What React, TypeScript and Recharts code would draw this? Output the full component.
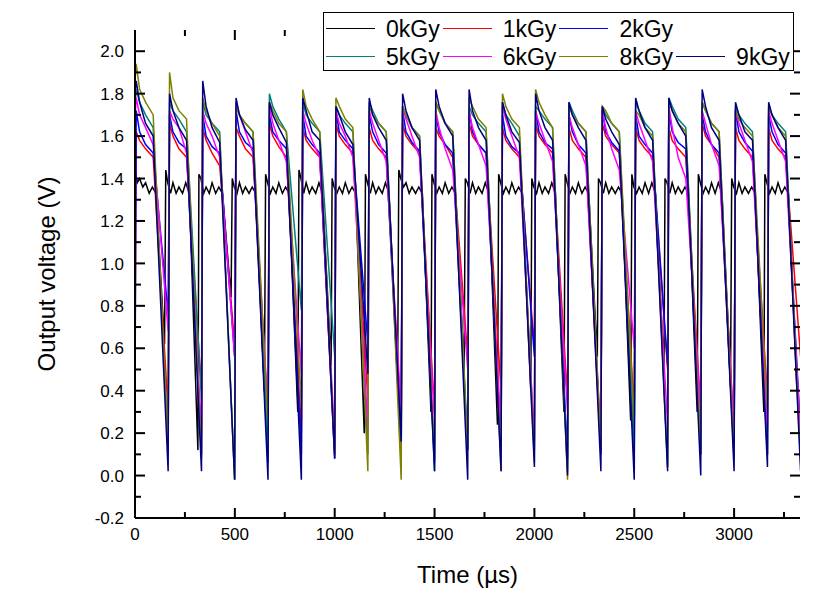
import { LineChart, Line, XAxis, YAxis, Legend } from 'recharts'

// time of each rising edge (µs)
const CYCLE_START = [3, 170, 336, 503, 670, 837, 1003, 1170, 1337, 1503, 1670, 1837, 2003, 2170, 2337, 2504, 2670, 2837, 3004, 3170]
// points inside a cycle: peak, early plateau, mid plateau, end of plateau, bottom of falling edge
const CYCLE_OFFSETS = [3, 20, 50, 88, 163]
// the 0kGy trace switches ~20 µs earlier, holds a noisy plateau longer
const REF_SHIFT = -20
const REF_OFFSETS = [4, 14, 28, 40, 56, 70, 88, 104, 122, 165]

const X_DOMAIN = [0, 3330]
const Y_DOMAIN = [-0.2, 2.1]
const X_MAJOR = [0, 500, 1000, 1500, 2000, 2500, 3000]
const X_MINOR = [250, 750, 1250, 1750, 2250, 2750, 3250]
const Y_MAJOR = [-0.2, 0, 0.2, 0.4, 0.6, 0.8, 1.0, 1.2, 1.4, 1.6, 1.8, 2.0]
const Y_MINOR = [-0.1, 0.1, 0.3, 0.5, 0.7, 0.9, 1.1, 1.3, 1.5, 1.7, 1.9]

// 0kGy: [peak, then plateau noise ..., bottom] per cycle
const V_0KGY = [
  [1.45, 1.42, 1.38, 1.40, 1.36, 1.38, 1.33, 1.36, 1.33, 0.62], [1.44, 1.38, 1.33, 1.38, 1.33, 1.36, 1.33, 1.38, 1.33, 0.12],
  [1.42, 1.40, 1.33, 1.36, 1.33, 1.38, 1.33, 1.36, 1.33, 0.84], [1.40, 1.36, 1.33, 1.38, 1.33, 1.36, 1.33, 1.36, 1.33, 0.40],
  [1.42, 1.38, 1.33, 1.36, 1.33, 1.38, 1.33, 1.36, 1.33, 0.30], [1.44, 1.40, 1.33, 1.38, 1.33, 1.36, 1.33, 1.38, 1.33, 0.52],
  [1.40, 1.36, 1.33, 1.36, 1.33, 1.38, 1.33, 1.36, 1.33, 0.20], [1.42, 1.38, 1.33, 1.38, 1.33, 1.36, 1.33, 1.38, 1.33, 0.44],
  [1.44, 1.40, 1.36, 1.38, 1.33, 1.36, 1.33, 1.36, 1.33, 0.30], [1.42, 1.38, 1.33, 1.36, 1.33, 1.38, 1.33, 1.36, 1.33, 0.50],
  [1.40, 1.38, 1.33, 1.38, 1.33, 1.36, 1.33, 1.38, 1.33, 0.24], [1.42, 1.38, 1.33, 1.36, 1.33, 1.38, 1.33, 1.36, 1.33, 0.40],
  [1.40, 1.36, 1.33, 1.38, 1.33, 1.36, 1.33, 1.38, 1.33, 0.30], [1.42, 1.38, 1.33, 1.36, 1.33, 1.38, 1.33, 1.36, 1.33, 0.56],
  [1.40, 1.38, 1.33, 1.38, 1.33, 1.36, 1.33, 1.36, 1.33, 0.26], [1.42, 1.36, 1.33, 1.36, 1.33, 1.38, 1.33, 1.38, 1.33, 0.50],
  [1.40, 1.38, 1.33, 1.38, 1.33, 1.36, 1.33, 1.36, 1.33, 0.30], [1.42, 1.38, 1.33, 1.36, 1.33, 1.38, 1.33, 1.38, 1.33, 0.42],
  [1.40, 1.36, 1.33, 1.38, 1.33, 1.36, 1.33, 1.36, 1.33, 0.30], [1.42, 1.38, 1.33, 1.36, 1.33, 1.38, 1.33, 1.36, 1.33, 0.40],
]
// the others: [peak, early, mid, end, bottom] per cycle
const V_1KGY = [
  [1.62, 1.58, 1.54, 1.50, 0.30], [1.66, 1.60, 1.54, 1.50, 0.40], [1.64, 1.58, 1.52, 1.46, 0.62], [1.64, 1.60, 1.54, 1.50, 0.28],
  [1.66, 1.60, 1.55, 1.50, 0.20], [1.64, 1.58, 1.54, 1.50, 0.10], [1.66, 1.60, 1.56, 1.52, 0.36], [1.64, 1.58, 1.54, 1.50, 0.24],
  [1.66, 1.60, 1.56, 1.52, 0.30], [1.64, 1.60, 1.56, 1.50, 0.56], [1.66, 1.60, 1.56, 1.52, 0.40], [1.64, 1.58, 1.54, 1.50, 0.60],
  [1.66, 1.60, 1.56, 1.52, 0.36], [1.64, 1.58, 1.54, 1.50, 0.10], [1.66, 1.60, 1.56, 1.52, 0.30], [1.64, 1.58, 1.54, 1.50, 0.50],
  [1.64, 1.58, 1.54, 1.50, 0.30], [1.66, 1.60, 1.56, 1.50, 0.20], [1.64, 1.58, 1.54, 1.50, 0.36], [1.64, 1.58, 1.54, 1.50, 0.56],
]
const V_2KGY = [
  [1.72, 1.62, 1.56, 1.52, 0.76], [1.70, 1.62, 1.57, 1.54, 0.10], [1.70, 1.60, 1.55, 1.52, 0.56], [1.72, 1.62, 1.57, 1.54, 0.06],
  [1.70, 1.62, 1.58, 1.54, 0.10], [1.70, 1.60, 1.56, 1.52, 0.08], [1.72, 1.62, 1.58, 1.54, 0.62], [1.70, 1.62, 1.56, 1.52, 0.10],
  [1.72, 1.62, 1.57, 1.53, 0.06], [1.70, 1.62, 1.56, 1.52, 0.12], [1.72, 1.62, 1.56, 1.52, 0.10], [1.70, 1.60, 1.55, 1.52, 0.56],
  [1.72, 1.62, 1.57, 1.54, 0.08], [1.70, 1.62, 1.56, 1.52, 0.12], [1.72, 1.62, 1.57, 1.53, 0.10], [1.70, 1.60, 1.56, 1.52, 0.52],
  [1.72, 1.62, 1.57, 1.54, 0.10], [1.70, 1.62, 1.56, 1.52, 0.08], [1.72, 1.62, 1.57, 1.53, 0.10], [1.70, 1.62, 1.56, 1.52, 0.20],
]
const V_5KGY = [
  [1.82, 1.76, 1.70, 1.64, 0.12], [1.76, 1.72, 1.68, 1.62, 0.36], [1.76, 1.70, 1.66, 1.62, -0.02], [1.74, 1.70, 1.66, 1.62, 0.10],
  [1.80, 1.74, 1.68, 1.62, 0.78], [1.76, 1.70, 1.66, 1.62, 0.56], [1.74, 1.70, 1.66, 1.62, 0.10], [1.76, 1.72, 1.66, 1.62, 0.10],
  [1.74, 1.70, 1.64, 1.60, 0.02], [1.76, 1.72, 1.66, 1.62, 0.14], [1.74, 1.70, 1.66, 1.62, 0.10], [1.76, 1.70, 1.66, 1.60, 0.12],
  [1.74, 1.72, 1.68, 1.64, 0.02], [1.76, 1.72, 1.66, 1.62, 0.10], [1.74, 1.70, 1.66, 1.62, 0.12], [1.76, 1.72, 1.66, 1.62, 0.04],
  [1.78, 1.74, 1.68, 1.64, 0.10], [1.76, 1.72, 1.66, 1.62, 0.12], [1.74, 1.70, 1.66, 1.62, 0.10], [1.74, 1.70, 1.66, 1.62, 0.10],
]
const V_6KGY = [
  [1.78, 1.70, 1.64, 1.56, 0.68], [1.72, 1.68, 1.64, 1.52, 0.20], [1.72, 1.66, 1.60, 1.50, 0.56], [1.76, 1.70, 1.62, 1.52, 0.30],
  [1.74, 1.66, 1.58, 1.48, 0.48], [1.72, 1.66, 1.58, 1.50, 0.18], [1.72, 1.66, 1.60, 1.50, 0.22], [1.72, 1.66, 1.58, 1.48, 0.30],
  [1.74, 1.68, 1.60, 1.50, 0.26], [1.72, 1.64, 1.54, 1.44, 0.50], [1.72, 1.64, 1.56, 1.46, 0.22], [1.74, 1.68, 1.60, 1.50, 0.16],
  [1.72, 1.66, 1.58, 1.48, 0.30], [1.70, 1.64, 1.56, 1.46, 0.18], [1.72, 1.64, 1.54, 1.44, 0.60], [1.72, 1.66, 1.58, 1.48, 0.24],
  [1.74, 1.64, 1.50, 1.40, 0.30], [1.72, 1.66, 1.56, 1.46, 0.20], [1.72, 1.66, 1.58, 1.48, 0.22], [1.72, 1.66, 1.58, 1.48, 0.18],
]
const V_8KGY = [
  [1.94, 1.82, 1.76, 1.70, 0.12], [1.90, 1.78, 1.72, 1.68, 0.08], [1.78, 1.72, 1.66, 1.60, -0.02], [1.74, 1.70, 1.66, 1.62, 0.24],
  [1.76, 1.72, 1.66, 1.62, 0.32], [1.82, 1.74, 1.68, 1.62, 0.10], [1.78, 1.74, 1.68, 1.64, 0.02], [1.74, 1.70, 1.66, 1.62, -0.02],
  [1.74, 1.70, 1.64, 1.60, 0.08], [1.76, 1.72, 1.66, 1.62, 0.12], [1.78, 1.74, 1.68, 1.64, 0.02], [1.80, 1.74, 1.68, 1.64, 0.06],
  [1.82, 1.76, 1.70, 1.64, -0.02], [1.74, 1.70, 1.66, 1.62, 0.14], [1.74, 1.72, 1.66, 1.62, 0.24], [1.72, 1.70, 1.64, 1.60, 0.04],
  [1.76, 1.72, 1.66, 1.62, 0.10], [1.76, 1.72, 1.66, 1.62, 0.08], [1.72, 1.68, 1.64, 1.60, 0.30], [1.74, 1.70, 1.64, 1.60, 0.06],
]
const V_9KGY = [
  [1.86, 1.76, 1.66, 1.60, 0.02], [1.80, 1.72, 1.64, 1.58, 0.02], [1.86, 1.74, 1.64, 1.57, -0.02], [1.78, 1.70, 1.63, 1.58, -0.02],
  [1.76, 1.70, 1.64, 1.57, -0.02], [1.78, 1.72, 1.62, 1.58, 0.08], [1.74, 1.70, 1.62, 1.56, 0.48], [1.78, 1.70, 1.64, 1.58, 0.16],
  [1.80, 1.72, 1.64, 1.58, 0.02], [1.82, 1.74, 1.66, 1.60, -0.02], [1.82, 1.72, 1.64, 1.58, 0.02], [1.76, 1.70, 1.62, 1.57, 0.04],
  [1.80, 1.72, 1.64, 1.58, 0.00], [1.76, 1.70, 1.64, 1.58, 0.02], [1.74, 1.68, 1.62, 1.56, -0.02], [1.78, 1.72, 1.64, 1.58, 0.02],
  [1.78, 1.72, 1.66, 1.60, 0.00], [1.82, 1.74, 1.64, 1.58, 0.02], [1.76, 1.70, 1.62, 1.58, 0.04], [1.76, 1.70, 1.64, 1.58, 0.02],
]

// value at t = 0 for each trace
const START_V = [1.45, 0.55, 0.35, 1.74, 1.68, 1.86, 1.80]
const NAMES = ['0kGy', '1kGy', '2kGy', '5kGy', '6kGy', '8kGy', '9kGy']
const COLORS = ['#000000', '#FF0000', '#0000FF', '#008080', '#FF00FF', '#808000', '#000080']
const CYCLES = [V_0KGY, V_1KGY, V_2KGY, V_5KGY, V_6KGY, V_8KGY, V_9KGY]

function buildSeries(start: number, cycles: number[][], shift: number, offsets: number[]) {
  const pts = [{ t: 0, v: start }]
  cycles.forEach((vals, k) => {
    const t0 = CYCLE_START[k] + shift
    vals.forEach((v, j) => {
      const t = t0 + offsets[j]
      if (t > 0) pts.push({ t, v })
    })
  })
  return pts
}

const SERIES = NAMES.map((name, i) => ({
  name,
  color: COLORS[i],
  data: i === 0
    ? buildSeries(START_V[i], CYCLES[i], REF_SHIFT, REF_OFFSETS)
    : buildSeries(START_V[i], CYCLES[i], 0, CYCLE_OFFSETS),
}))

const FONT = 'Arial, "Liberation Sans", sans-serif'
const AXIS_LINE = { stroke: '#000', strokeWidth: 2 }
const W = 817
const H = 598
const MARGIN = { top: 22, right: 25, bottom: 0, left: 0 }
const Y_AXIS_W = 127
const X_AXIS_H = 88
const MAJOR_PX = 10
const MINOR_PX = 6

// plot box, same as what recharts lays out from the margins and axis sizes
const PLOT = {
  left: MARGIN.left + Y_AXIS_W,
  right: W - MARGIN.right,
  top: MARGIN.top,
  bottom: H - MARGIN.bottom - X_AXIS_H,
}
const sx = (v: number) => PLOT.left + (v - X_DOMAIN[0]) / (X_DOMAIN[1] - X_DOMAIN[0]) * (PLOT.right - PLOT.left)
const sy = (v: number) => PLOT.bottom - (v - Y_DOMAIN[0]) / (Y_DOMAIN[1] - Y_DOMAIN[0]) * (PLOT.bottom - PLOT.top)

const BottomLabel = ({ x, y, payload }: any) => (
  <text x={x} y={Number(y) + 22} textAnchor="middle" fontSize={17} fill="#000">{payload.value}</text>
)
const LeftLabel = ({ x, y, payload }: any) => (
  <text x={Number(x) - 11} y={y} dy="0.36em" textAnchor="end" fontSize={17} fill="#000">{payload.value.toFixed(1)}</text>
)

const YTitle = ({ viewBox }: any) => {
  const cx = viewBox.x + 38
  const cy = viewBox.y + viewBox.height / 2
  return (
    <text x={cx} y={cy} dy="0.36em" transform={`rotate(-90, ${cx}, ${cy})`} textAnchor="middle" fontSize={24} fill="#000">
      Output voltage (V)
    </text>
  )
}
const XTitle = ({ viewBox }: any) => (
  <text x={viewBox.x + viewBox.width / 2} y={viewBox.y + viewBox.height - 23} textAnchor="middle" fontSize={24} fill="#000">
    Time (µs)
  </text>
)

const renderLegend = ({ payload }: any) => {
  const items = (payload || []).filter((p: any) => NAMES.includes(p.value))
  const rows = [items.slice(0, 3), items.slice(3)]
  return (
    <div style={{ boxSizing: 'border-box', width: 471, height: 59, border: '1.5px solid #000', background: '#fff', position: 'relative' }}>
      {rows.map((row: any[], r: number) =>
        row.map((item: any, c: number) => (
          <div key={item.value} style={{
            position: 'absolute', left: 2 + c * 116.7, top: 1.5 + r * 28, height: 28,
            display: 'flex', alignItems: 'center', whiteSpace: 'nowrap',
          }}>
            <span style={{ display: 'inline-block', width: 49, borderTop: `1.5px solid ${item.color}` }} />
            <span style={{ marginLeft: 11, fontSize: 23, lineHeight: '28px', color: '#000' }}>{item.value}</span>
          </div>
        ))
      )}
    </div>
  )
}

// inward tick marks on all four sides of the frame
function FrameTicks() {
  const xs = [...X_MAJOR.map(v => ({ v, len: MAJOR_PX })), ...X_MINOR.map(v => ({ v, len: MINOR_PX }))].filter(d => d.v > X_DOMAIN[0])
  const ys = [...Y_MAJOR.map(v => ({ v, len: MAJOR_PX })), ...Y_MINOR.map(v => ({ v, len: MINOR_PX }))].filter(d => d.v > Y_DOMAIN[0])
  return (
    <svg width={W} height={H} style={{ position: 'absolute', left: 0, top: 0, zIndex: 1, pointerEvents: 'none' }}>
      <g stroke="#000" strokeWidth={2}>
        {xs.map(({ v, len }) => (
          <g key={`x${v}`}>
            <line x1={sx(v)} x2={sx(v)} y1={PLOT.bottom} y2={PLOT.bottom - len} />
            <line x1={sx(v)} x2={sx(v)} y1={PLOT.top} y2={PLOT.top + len} />
          </g>
        ))}
        {ys.map(({ v, len }) => (
          <g key={`y${v}`}>
            <line x1={PLOT.left} x2={PLOT.left + len} y1={sy(v)} y2={sy(v)} />
            <line x1={PLOT.right} x2={PLOT.right - len} y1={sy(v)} y2={sy(v)} />
          </g>
        ))}
      </g>
    </svg>
  )
}

export default function App() {
  return (
    <div style={{ fontFamily: FONT, width: W, height: H, position: 'relative' }}>
      <LineChart width={W} height={H} margin={MARGIN}>
        <XAxis dataKey="t" type="number" domain={X_DOMAIN} allowDataOverflow ticks={X_MAJOR} interval={0}
          height={X_AXIS_H} axisLine={AXIS_LINE} tickLine={false} tickSize={0} tickMargin={0}
          tick={BottomLabel} label={<XTitle />} />
        <XAxis xAxisId="top" orientation="top" dataKey="t" type="number" domain={X_DOMAIN} allowDataOverflow
          height={0} axisLine={AXIS_LINE} tickLine={false} tick={false} />
        <YAxis type="number" domain={Y_DOMAIN} allowDataOverflow ticks={Y_MAJOR} interval={0}
          width={Y_AXIS_W} axisLine={AXIS_LINE} tickLine={false} tickSize={0} tickMargin={0}
          tick={LeftLabel} label={<YTitle />} />
        <YAxis yAxisId="right" orientation="right" type="number" domain={Y_DOMAIN} allowDataOverflow
          width={0} axisLine={AXIS_LINE} tickLine={false} tick={false} />
        {SERIES.map(s => (
          <Line key={s.name} data={s.data} dataKey="v" name={s.name} type="linear" stroke={s.color}
            strokeWidth={1.5} dot={false} activeDot={false} isAnimationActive={false} />
        ))}
        <Legend layout="vertical" align="center" verticalAlign="middle" content={renderLegend}
          wrapperStyle={{ left: 315, top: 4, width: 471, height: 59, zIndex: 2 }} />
      </LineChart>
      <FrameTicks />
    </div>
  )
}
